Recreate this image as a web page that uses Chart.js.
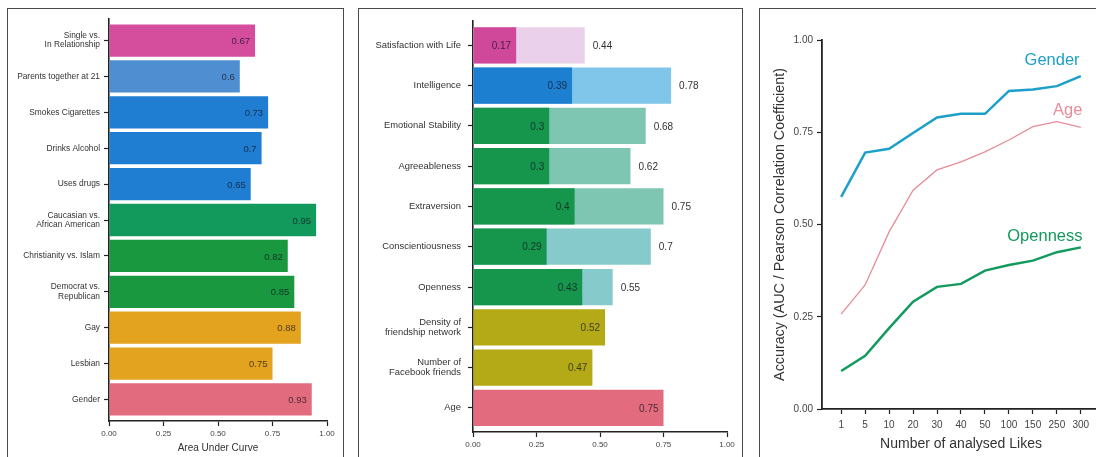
<!DOCTYPE html>
<html>
<head>
<meta charset="utf-8">
<script src="https://cdn.jsdelivr.net/npm/chart.js@4.4.1/dist/chart.umd.min.js"></script>
<style>
  html, body { margin: 0; padding: 0; background: #fff; overflow: hidden; width: 1096px; height: 457px; }
  .panel { position: absolute; border: 1.5px solid #4a4a4a; box-sizing: border-box; }
  canvas { position: absolute; }
</style>
</head>
<body>
<div class="panel" style="left:7px;top:8px;width:337px;height:480px"></div>
<div class="panel" style="left:358px;top:8px;width:385px;height:480px"></div>
<div class="panel" style="left:759px;top:8px;width:420px;height:480px"></div>
<canvas id="aucChart" width="334" height="448" style="left:8px;top:9px"></canvas>
<canvas id="corrChart" width="383" height="448" style="left:359px;top:9px"></canvas>
<canvas id="likesChart" width="360" height="448" style="left:760px;top:9px"></canvas>
<script>
// ---- Dichotomous variables: area under the ROC curve ----
const binaryTraits = ['Single vs.\nIn Relationship', 'Parents together at 21', 'Smokes Cigarettes',
  'Drinks Alcohol', 'Uses drugs', 'Caucasian vs.\nAfrican American', 'Christianity vs. Islam',
  'Democrat vs.\nRepublican', 'Gay', 'Lesbian', 'Gender'];
const binaryAUC = [0.67, 0.6, 0.73, 0.7, 0.65, 0.95, 0.82, 0.85, 0.88, 0.75, 0.93];

// ---- Numeric variables: Pearson correlation, with questionnaire test-retest baseline ----
const numericTraits = ['Satisfaction with Life', 'Intelligence', 'Emotional Stability', 'Agreeableness',
  'Extraversion', 'Conscientiousness', 'Openness', 'Density of\nfriendship network',
  'Number of\nFacebook friends', 'Age'];
const likesCorrelation = [0.17, 0.39, 0.3, 0.3, 0.4, 0.29, 0.43, 0.52, 0.47, 0.75];
const testRetestReliability = [0.44, 0.78, 0.68, 0.62, 0.75, 0.7, 0.55, null, null, null];

// ---- Accuracy as a function of the number of Likes ----
const likesCounts = ['1', '5', '10', '20', '30', '40', '50', '100', '150', '250', '300'];
const genderAccuracy = [0.575, 0.695, 0.705, 0.748, 0.79, 0.80, 0.80, 0.862, 0.866, 0.875, 0.902];
const ageAccuracy = [0.257, 0.336, 0.48, 0.593, 0.648, 0.67, 0.697, 0.729, 0.765, 0.779, 0.763];
const opennessAccuracy = [0.103, 0.144, 0.219, 0.291, 0.331, 0.339, 0.375, 0.39, 0.402, 0.425, 0.438];

const unitTicks = [0, 0.25, 0.5, 0.75, 1];

// ---- styling ----
const FONT = "'Liberation Sans', Arial, Helvetica, sans-serif";
const AXIS = '#222';
const binaryColors = ['#D54E9E', '#4F8ED0', '#1F7ED1', '#1F7ED1', '#1F7ED1', '#129A5C',
  '#1A983F', '#1A983F', '#E3A31F', '#E3A31F', '#E26C7D'];
const corrColors = ['#D0489A', '#1C7FCF', '#15964C', '#15964C', '#15964C', '#15964C', '#15964C',
  '#B4A916', '#B4A916', '#E26C7D'];
const baselineColors = ['#EAD0EA', '#7FC6EA', '#7EC5B2', '#7EC5B2', '#7EC5B2', '#86CACB', '#86CACB'];

Chart.defaults.font.family = FONT;
Chart.defaults.color = '#333';
Chart.defaults.animation = false;

const valueLabels = {
  id: 'valueLabels',
  afterDatasetsDraw(chart) {
    const ctx = chart.ctx;
    chart.data.datasets.forEach((ds, di) => {
      if (!ds.valueLabel) return;
      const meta = chart.getDatasetMeta(di);
      meta.data.forEach((bar, i) => {
        const v = ds.data[i].x;
        ctx.save();
        ctx.font = ds.valueLabel.size + 'px ' + FONT;
        ctx.fillStyle = ds.valueLabel.color;
        ctx.textBaseline = 'middle';
        if (ds.valueLabel.inside) {
          ctx.textAlign = 'right';
          ctx.fillText(String(v), bar.x - 5, bar.y + 1);
        } else {
          ctx.textAlign = 'left';
          ctx.fillText(String(v), bar.x + 8, bar.y + 1);
        }
        ctx.restore();
      });
    });
  }
};

function categoryAxis(labels, width, fontSize, pad) {
  return {
    type: 'linear', reverse: true, bounds: 'data', offset: false,
    min: -0.6, max: labels.length - 0.4,
    afterBuildTicks: s => { s.ticks = labels.map((_, i) => ({ value: i })); },
    afterFit: s => { s.width = width; },
    ticks: {
      autoSkip: false, padding: pad, color: '#333',
      font: { size: fontSize, lineHeight: 1.1 },
      callback: v => labels[v].split('\n')
    },
    grid: { offset: false, drawOnChartArea: false, tickLength: 5, color: AXIS, tickWidth: 1.2 },
    border: { color: AXIS, width: 1.6 }
  };
}

function unitAxis(height, title) {
  return {
    type: 'linear', min: 0, max: 1, bounds: 'data',
    afterBuildTicks: s => { s.ticks = unitTicks.map(v => ({ value: v })); },
    afterFit: s => { s.height = height; },
    ticks: { padding: 3, color: '#444', font: { size: 8 }, callback: v => v.toFixed(2) },
    grid: { drawOnChartArea: false, tickLength: 5, color: AXIS, tickWidth: 1.2 },
    border: { color: AXIS, width: 1.6 },
    title: title ? { display: true, text: title, color: '#333', font: { size: 10 }, padding: { top: 0, bottom: 3 } }
                 : { display: false }
  };
}

// Panel 1
new Chart(document.getElementById('aucChart'), {
  type: 'bar',
  data: {
    datasets: [{
      data: binaryAUC.map((v, i) => ({ x: v, y: i })),
      backgroundColor: binaryColors,
      grouped: false, categoryPercentage: 1, barPercentage: 0.9,
      valueLabel: { inside: true, size: 9.5, color: 'rgba(15,15,30,0.72)' }
    }]
  },
  options: {
    indexAxis: 'y', responsive: false,
    layout: { padding: { top: 10, right: 15, left: 0, bottom: 0 } },
    plugins: { legend: { display: false }, tooltip: { enabled: false } },
    scales: { y: categoryAxis(binaryTraits, 101, 8.4, 4), x: unitAxis(36, 'Area Under Curve') }
  },
  plugins: [valueLabels]
});

// Panel 2
new Chart(document.getElementById('corrChart'), {
  type: 'bar',
  data: {
    datasets: [{
      data: likesCorrelation.map((v, i) => ({ x: v, y: i })),
      backgroundColor: corrColors,
      grouped: false, categoryPercentage: 1, barPercentage: 0.9,
      valueLabel: { inside: true, size: 10, color: 'rgba(15,15,30,0.72)' }
    }, {
      data: testRetestReliability.map((v, i) => ({ x: v, y: i })).filter(p => p.x != null),
      backgroundColor: baselineColors,
      grouped: false, categoryPercentage: 1, barPercentage: 0.9,
      valueLabel: { inside: false, size: 10, color: '#333' }
    }]
  },
  options: {
    indexAxis: 'y', responsive: false,
    layout: { padding: { top: 10, right: 15, left: 0, bottom: 0 } },
    plugins: { legend: { display: false }, tooltip: { enabled: false } },
    scales: { y: categoryAxis(numericTraits, 114, 9.4, 7), x: unitAxis(25, null) }
  },
  plugins: [valueLabels]
});

// Panel 3
const seriesNames = [
  { text: 'Gender', color: '#1C9FC8', at: [8.8, 0.945] },
  { text: 'Age', color: '#E88C9A', at: [9.45, 0.81] },
  { text: 'Openness', color: '#14995E', at: [8.5, 0.468] }
];
const seriesLabels = {
  id: 'seriesLabels',
  afterDatasetsDraw(chart) {
    const ctx = chart.ctx, xs = chart.scales.x, ys = chart.scales.y;
    ctx.save();
    ctx.font = '16.5px ' + FONT;
    ctx.textAlign = 'center';
    ctx.textBaseline = 'middle';
    seriesNames.forEach(s => {
      ctx.fillStyle = s.color;
      ctx.fillText(s.text, xs.getPixelForValue(s.at[0]), ys.getPixelForValue(s.at[1]));
    });
    ctx.restore();
  }
};

new Chart(document.getElementById('likesChart'), {
  type: 'line',
  data: {
    datasets: [
      { data: genderAccuracy.map((v, i) => ({ x: i, y: v })), borderColor: '#1C9FC8', borderWidth: 2.5 },
      { data: ageAccuracy.map((v, i) => ({ x: i, y: v })), borderColor: '#E88C9A', borderWidth: 1.3 },
      { data: opennessAccuracy.map((v, i) => ({ x: i, y: v })), borderColor: '#14995E', borderWidth: 2.5 }
    ]
  },
  options: {
    responsive: false,
    elements: { point: { radius: 0 }, line: { tension: 0 } },
    layout: { padding: { top: 31, right: 20, left: 0, bottom: 0 } },
    plugins: { legend: { display: false }, tooltip: { enabled: false } },
    scales: {
      x: {
        type: 'linear', min: -0.8, max: likesCounts.length - 0.2, bounds: 'data',
        afterBuildTicks: s => { s.ticks = likesCounts.map((_, i) => ({ value: i })); },
        afterFit: s => { s.height = 48; },
        ticks: { padding: 5, color: '#444', font: { size: 10 }, callback: v => likesCounts[v] },
        grid: { drawOnChartArea: false, tickLength: 5, color: AXIS, tickWidth: 1.2 },
        border: { color: AXIS, width: 1.8 },
        title: { display: true, text: 'Number of analysed Likes', color: '#333', font: { size: 14 }, padding: { top: 0, bottom: 4 } }
      },
      y: {
        type: 'linear', min: 0, max: 1, bounds: 'data',
        afterBuildTicks: s => { s.ticks = unitTicks.map(v => ({ value: v })); },
        afterFit: s => { s.width = 62; },
        ticks: { padding: 4, color: '#444', font: { size: 10 }, callback: v => v.toFixed(2) },
        grid: { drawOnChartArea: false, tickLength: 5, color: AXIS, tickWidth: 1.2 },
        border: { color: AXIS, width: 1.8 },
        title: { display: true, text: 'Accuracy (AUC / Pearson Correlation Coefficient)', color: '#333', font: { size: 14.3 }, padding: { top: 11, bottom: 0 } }
      }
    }
  },
  plugins: [seriesLabels]
});
</script>
</body>
</html>
